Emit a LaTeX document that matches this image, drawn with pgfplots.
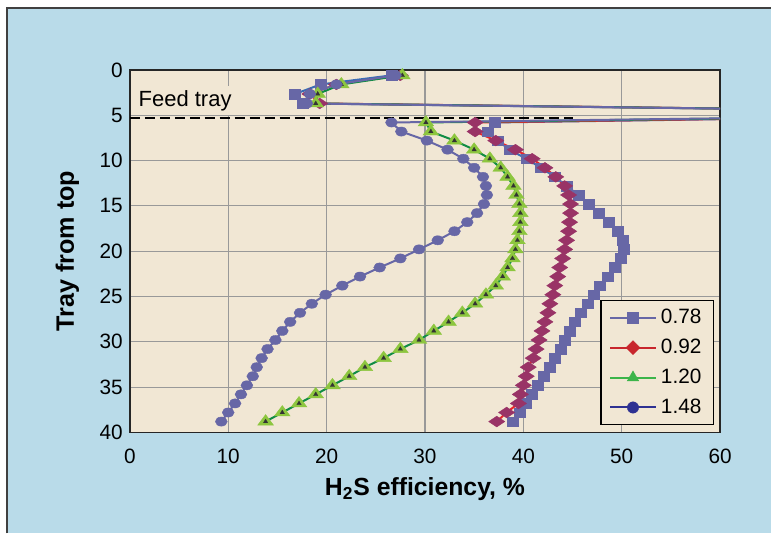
\documentclass[border=0pt]{standalone}
\usepackage{fontspec}
\setmainfont{Liberation Sans}
\usepackage{pgfplots}
\usepackage{pgfplotstable}
\pgfplotsset{compat=1.18}

\definecolor{bgblue}{HTML}{B9DBE9}
\definecolor{beige}{HTML}{F1E7D4}
\definecolor{gridgray}{HTML}{999999}
\definecolor{slate}{HTML}{6767A6}
\definecolor{plum}{HTML}{993366}
\definecolor{redline}{HTML}{E8262C}
\definecolor{blueline}{HTML}{3A6DB5}
\definecolor{lgreen}{HTML}{8DC63F}
\definecolor{dgreen}{HTML}{108C44}
\definecolor{legred}{HTML}{C8262C}
\definecolor{leggreen}{HTML}{3CB54A}
\definecolor{navy}{HTML}{2E3192}

% y = tray position on the chart, then H2S efficiency (%) for each series
\pgfplotstableread{
y     a     b     c     d
0.6   26.6  27.5  27.7  27.0
1.6   19.4  21.0  21.5  21.0
2.65  16.8  18.3  19.1  18.3
3.7   17.6  19.3  18.9  18.0
4.8   100   100   100   100
5.8   37.1  35.1  30.1  26.6
6.8   36.4  35.1  30.6  27.6
7.8   37.4  37.2  33.0  30.2
8.8   38.6  39.2  35.0  32.3
9.8   40.3  40.9  36.6  33.9
10.8  41.8  42.2  37.7  35.0
11.8  43.2  43.3  38.4  35.9
12.8  44.4  44.2  39.0  36.2
13.8  45.6  44.6  39.3  36.3
14.8  46.6  44.8  39.6  36.0
15.8  47.7  44.8  39.7  35.3
16.8  48.7  44.7  39.7  34.3
17.8  49.6  44.6  39.6  33.0
18.8  50.1  44.4  39.4  31.3
19.8  50.2  44.2  39.2  29.4
20.8  49.9  44.0  38.9  27.5
21.8  49.3  43.7  38.4  25.4
22.8  48.6  43.5  37.9  23.4
23.8  47.8  43.2  37.2  21.6
24.8  47.2  43.0  36.2  19.9
25.8  46.5  42.7  35.1  18.5
26.8  45.8  42.5  33.8  17.3
27.8  45.2  42.2  32.4  16.3
28.8  44.7  41.9  30.9  15.5
29.8  44.2  41.6  29.4  14.8
30.8  43.8  41.3  27.5  14.0
31.8  43.2  41.0  25.8  13.4
32.8  42.7  40.5  23.9  12.9
33.8  42.1  40.3  22.3  12.5
34.8  41.5  40.0  20.6  11.9
35.8  40.9  39.7  18.9  11.3
36.8  40.2  39.5  17.2  10.7
37.8  39.6  38.3  15.5  10.0
38.8  38.9  37.3  13.8  9.3
}\trays

\begin{document}
\begin{tikzpicture}
% page and blue panel (1 px of the reference = 0.5pt)
\fill[white] (-65pt,-50.5pt) rectangle (321pt,216.5pt);
\fill[bgblue] (-61.5pt,-50.5pt) rectangle (321pt,212.5pt);
\draw[black!75, line width=1pt] (-61.5pt,-50.5pt) -- (-61.5pt,212.5pt) -- (321pt,212.5pt);
\begin{axis}[
    scale only axis,
    width=295.5pt, height=181.5pt,
    xmin=0, xmax=60, ymin=0, ymax=40,
    y dir=reverse,
    xtick={0,10,...,60}, ytick={0,5,...,40},
    major tick length=0pt,
    grid=major,
    grid style={gridgray, line width=0.6pt},
    axis line style={black!85, line width=0.8pt},
    axis background/.style={fill=beige},
    /pgf/number format/assume math mode=true,
    ticklabel style={font=\fontsize{10.4}{12}\selectfont},
    xticklabel style={yshift=-4.8pt},
    xlabel={\textbf{H\textsubscript{2}S efficiency, \%}},
    ylabel={\textbf{Tray from top}},
    every axis x label/.style={at={(axis description cs:0.5,-0.1752)}, anchor=base, font=\fontsize{12.4}{14}\selectfont},
    every axis y label/.style={at={(axis description cs:-0.0948,0.5)}, rotate=90, anchor=base, font=\fontsize{12.6}{14}\selectfont},
    legend image code/.code={\draw[#1, mark repeat=2, mark phase=2] plot coordinates {(0pt,0pt) (11.5pt,0pt) (23pt,0pt)};},
    legend cell align=left,
    legend style={at={(axis description cs:0.98985,0.0201)}, anchor=south east,
        fill=beige, draw=black, line width=0.7pt,
        font=\fontsize{10.4}{12}\selectfont,
        inner xsep=4pt, inner ysep=1pt, row sep=0pt,
        nodes={inner xsep=2pt, inner ysep=0pt, minimum height=15pt},
        /tikz/every even column/.append style={column sep=2pt}},
]
% feed tray marker line
\addplot[black, line width=1pt, dash pattern=on 5pt off 2.5pt, forget plot] coordinates {(0,5.3) (45,5.3)};

\addplot[blueline, line width=1pt, mark=square*, mark size=2.4pt,
    mark options={fill=slate, draw=slate, line width=0.2pt, xscale=1.15}, forget plot] table[x=a, y=y] {\trays};
\addplot[redline, line width=1pt, mark=diamond*, mark size=2.7pt,
    mark options={fill=plum, draw=plum, line width=0.2pt, xscale=2.0}, forget plot] table[x=b, y=y] {\trays};
\addplot[dgreen, line width=1pt, mark=triangle*, mark size=3.5pt,
    mark options={fill=lgreen, draw=lgreen, line width=0.2pt, xscale=1.3}, forget plot] table[x=c, y=y] {\trays};
\addplot[only marks, mark=triangle*, mark size=1.3pt,
    mark options={fill=black!80, draw=black!80, line width=0.1pt}, forget plot] table[x=c, y=y] {\trays};
\addplot[slate, line width=1pt, mark=*, mark size=2.3pt,
    mark options={fill=slate, draw=slate, line width=0.2pt, xscale=1.3}, forget plot] table[x=d, y=y] {\trays};

\node[fill=beige, anchor=west, inner xsep=4pt, inner ysep=0pt, minimum height=14.5pt,
    font=\fontsize{11}{13}\selectfont] at (axis cs:0.05,3.4) {Feed tray};

\addlegendimage{slate, line width=1pt, mark=square*, mark size=2.7pt, mark options={fill=slate, draw=slate, line width=0.2pt}}
\addlegendentry{0.78}
\addlegendimage{legred, line width=1pt, mark=diamond*, mark size=3.5pt, mark options={fill=legred, draw=legred, line width=0.2pt, xscale=1.33}}
\addlegendentry{0.92}
\addlegendimage{leggreen, line width=1pt, mark=triangle*, mark size=3.3pt, mark options={fill=leggreen, draw=leggreen, line width=0.2pt}}
\addlegendentry{1.20}
\addlegendimage{navy, line width=1pt, mark=*, mark size=2.85pt, mark options={fill=navy, draw=navy, line width=0.2pt}}
\addlegendentry{1.48}
\end{axis}
\end{tikzpicture}
\end{document}
